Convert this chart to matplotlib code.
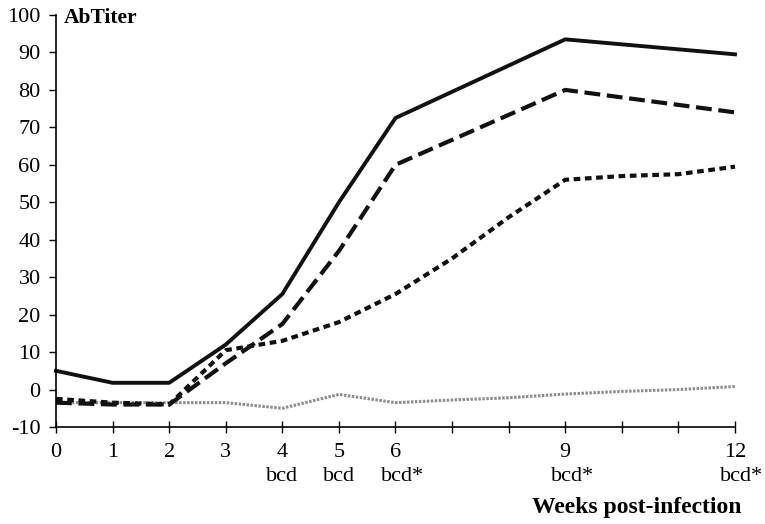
import matplotlib
matplotlib.use('Agg')
import matplotlib.pyplot as plt

# weeks post-infection
weeks_a = [0, 1, 2, 3, 4, 5, 6, 9, 12]
solid = [5, 1.8, 1.8, 12, 25.5, 50, 72.5, 93.5, 89.5]
long_dash = [-3.5, -4, -4, 7, 17.5, 37, 60, 80, 74]

weeks_b = [0, 1, 2, 3, 4, 5, 6, 7, 8, 9, 10, 11, 12]
short_dash = [-2.5, -3.5, -4, 10.5, 13, 18, 25.5, 35, 46, 56, 57, 57.5, 59.5]
control = [-3.5, -3.5, -3.5, -3.5, -5, -1.3, -3.5, -2.8, -2.2, -1.2, -0.5, 0, 0.8]

tick_weeks = list(range(13))
tick_labels = ['0', '1', '2', '3', '4', '5', '6', '', '', '9', '', '', '12']
sig_weeks = [4, 5, 6, 9, 12]
sig_labels = ['bcd', 'bcd', 'bcd*', 'bcd*', 'bcd*']
yticks = list(range(-10, 101, 10))

plt.rcParams['font.family'] = ['Liberation Serif', 'DejaVu Serif']
fs = 16

fig = plt.figure(figsize=(7.65, 5.24), dpi=100)
ax = fig.add_axes([56 / 765, 1 - 427 / 524, (735 - 56) / 765, (427 - 15) / 524])

ax.plot(weeks_b, control, color='0.55', lw=2.2, ls=(0, (0.8, 0.5)))
ax.plot(weeks_b, short_dash, color='#111111', lw=3.0, ls=(0, (1.6, 1.1)))
ax.plot(weeks_a, long_dash, color='#111111', lw=3.0, ls=(0, (3.8, 1.6)))
ax.plot(weeks_a, solid, color='#111111', lw=2.8)

ax.set_xlim(0, 12)
ax.set_ylim(-10, 100)
ax.set_xticks(tick_weeks)
ax.set_xticklabels(tick_labels, fontsize=fs)
ax.set_yticks(yticks)
ax.set_yticklabels([str(v) for v in yticks], fontsize=fs)
ax.tick_params(axis='x', direction='inout', length=9, width=1, pad=7)
ax.tick_params(axis='y', direction='out', length=5, width=1, pad=6)
for s in ['top', 'right']:
    ax.spines[s].set_visible(False)
for s in ['left', 'bottom']:
    ax.spines[s].set_linewidth(1.2)
for ln in ax.lines:
    ln.set_clip_on(False)

for w, lab in zip(sig_weeks, sig_labels):
    ax.annotate(lab, xy=(w, 0), xycoords=('data', 'axes fraction'),
                xytext=(5 if lab.endswith('*') else 0, -29), textcoords='offset points',
                ha='center', va='top', fontsize=fs)

fig.text(741 / 765, 1 - 508 / 524, 'Weeks post-infection', ha='right', va='center',
         fontsize=17, fontweight='bold')
ax.text(0.011, 0.993, 'AbTiter', transform=ax.transAxes, ha='left', va='center',
        fontsize=15.5, fontweight='bold')

fig.savefig('out.png', dpi=100)
